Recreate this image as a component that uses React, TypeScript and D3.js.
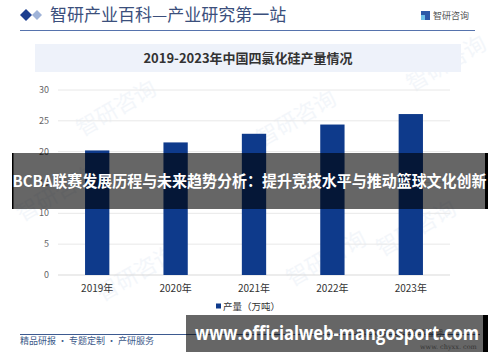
import React from "react";
import * as d3 from "d3";

const years = ["2019年", "2020年", "2021年", "2022年", "2023年"];
const production = [20.2, 21.5, 22.9, 24.4, 26.1];
const yTicks = [0, 5, 10, 15, 20, 25, 30];
const headerTitle = "智研产业百科—产业研究第一站";
const chartTitle = "2019-2023年中国四氯化硅产量情况";
const legendLabel = "产量（万吨）";
const footerText = "精品研报 · 专题定制 · 产研服务";
const brandText = "智研咨询";
const bannerText = "BCBA联赛发展历程与未来趋势分析：提升竞技水平与推动篮球文化创新";
const urlText = "www.officialweb-mangosport.com";
const sourceText = "数据来源：智研咨询整理";
const siteText = "www. chyxx. com";

const CJK = "'Noto Sans CJK SC', 'Noto Sans', sans-serif";

export default function App() {
  const W = 500, H = 362;
  const x = d3.scaleBand<string>().domain(years).range([58, 450]).paddingInner(0.69).paddingOuter(0.345);
  const y = d3.scaleLinear().domain([0, 30]).range([275, 90]);
  const barColor = "#0e3a8b";

  const watermarks = [
    { x: 120, y: 115 }, { x: 300, y: 125 }, { x: 450, y: 70 },
    { x: 140, y: 280 }, { x: 330, y: 265 }, { x: 60, y: 200 }, { x: 420, y: 235 },
  ];

  return (
    <svg width={W} height={H} style={{ position: "absolute", left: 0, top: 0, background: "#fff" }}>
      <rect x={0} y={0} width={W} height={H} fill="#fff" />
      {watermarks.map((w, i) => (
        <text key={i} x={w.x} y={w.y} transform={`rotate(-30 ${w.x} ${w.y})`} fontFamily={CJK}
          fontSize={22} fill="#e6edf6" opacity={0.45} textAnchor="middle">{brandText}</text>
      ))}
      <path d="M26,9 L32,15 L26,21 L20,15 Z" fill="#1d3f8f" />
      <path d="M37,10 L42,15 L37,20 L32,15 Z" fill="#9fb3d8" />
      <text x={50} y={21} fontFamily={CJK} fontSize={17} fill="#3b4f7c">{headerTitle}</text>
      <rect x={421} y={11} width={9} height={9} fill="#2b58a8" />
      <rect x={421} y={15} width={4} height={5} fill="#6ec0e8" />
      <text x={433} y={19} fontFamily={CJK} fontSize={9} fill="#555">{brandText}</text>
      <line x1={20} x2={475} y1={30.5} y2={30.5} stroke="#5673ad" strokeWidth={1} />
      <rect x={35} y={44} width={426} height={28} fill="#eef2fa" />
      <text x={248} y={62.5} textAnchor="middle" fontFamily={CJK} fontSize={13} fontWeight="bold" fill="#333">{chartTitle}</text>
      {yTicks.map((t) => (
        <g key={t}>
          <line x1={58} x2={450} y1={y(t)} y2={y(t)} stroke={t === 0 ? "#d9d9d9" : "#e8e8e8"} strokeWidth={1} />
          <text x={49} y={y(t) + 3} textAnchor="end" fontFamily={CJK} fontSize={9} fill="#666">{t}</text>
        </g>
      ))}
      {years.map((yr, i) => (
        <g key={yr}>
          <rect x={x(yr)} y={y(production[i])} width={x.bandwidth()} height={y(0) - y(production[i])} fill={barColor} />
          <text x={(x(yr) as number) + x.bandwidth() / 2} y={292} textAnchor="middle" fontFamily={CJK} fontSize={10} fill="#333">{yr}</text>
        </g>
      ))}
      <rect x={216} y={303.5} width={5} height={5} fill={barColor} />
      <text x={223} y={310} fontFamily={CJK} fontSize={9.5} fill="#333">{legendLabel}</text>
      <line x1={20} x2={480} y1={334.5} y2={334.5} stroke="#3d5a90" strokeWidth={1} />
      <text x={20} y={344} fontFamily={CJK} fontSize={9} fill="#3d5a8a">{footerText}</text>
      <text x={355} y={336} fontFamily={CJK} fontSize={8} fill="#888">{sourceText}</text>
      <text x={420} y={349} fontFamily="'DejaVu Serif', serif" fontSize={6.5} fill="#888">{siteText}</text>
      <rect x={12} y={153} width={476} height={56} fill="rgba(0,0,0,0.6)" />
      <rect x={12} y={153} width={1.5} height={56} fill="#000" />
      <rect x={485} y={153} width={3} height={56} fill="#000" />
      <text x={12.5} y={186.5} textLength={474} lengthAdjust="spacingAndGlyphs" fontFamily={CJK} fontSize={15.5} fontWeight="bold" fill="#fff">{bannerText}</text>
      <rect x={186} y={315} width={302} height={37} fill="rgba(0,0,0,0.6)" />
      <rect x={483} y={315} width={5} height={37} fill="#000" />
      <text x={195} y={340} textLength={284} lengthAdjust="spacingAndGlyphs" fontFamily="'Open Sans', 'Noto Sans', sans-serif" fontSize={20} fontWeight="bold" fill="#fff">{urlText}</text>
    </svg>
  );
}
